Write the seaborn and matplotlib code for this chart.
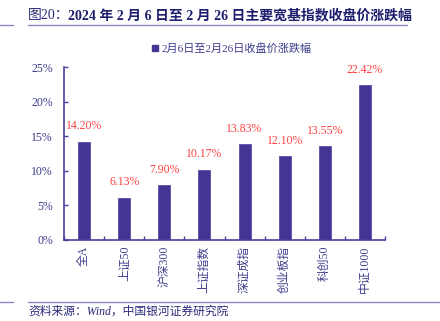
import matplotlib
matplotlib.use("Agg")
import matplotlib.pyplot as plt
import seaborn as sns
import pandas as pd
from matplotlib.lines import Line2D
from matplotlib.ticker import FixedLocator, PercentFormatter

categories = ["全A", "上证50", "沪深300", "上证指数", "深证成指", "创业板指", "科创50", "中证1000"]
values = [14.20, 6.13, 7.90, 10.17, 13.83, 12.10, 13.55, 22.42]
yticks = [0, 5, 10, 15, 20, 25]
series_name = "2月6日至2月26日收盘价涨跌幅"
title_prefix = "图20："
title_main = "2024 年 2 月 6 日至 2 月 26 日主要宽基指数收盘价涨跌幅"
source = "资料来源：Wind，中国银河证券研究院"

sns.set_theme(style="white")
FAM = ["Liberation Serif", "Noto Sans CJK SC", "DejaVu Sans"]
plt.rcParams["font.family"] = FAM

bar_color = "#433594"
axis_color = "#4B3F99"
text_color = "#3C3C8C"
label_color = "#FF4040"

df = pd.DataFrame({"cat": categories, "val": values})

fig = plt.figure(figsize=(4.40, 3.21), dpi=100)
ax = fig.add_axes([64/440, 1-240/321, (385-64)/440, (240-67)/321])
sns.barplot(data=df, x="cat", y="val", color=bar_color, width=0.3, ax=ax,
            saturation=1, edgecolor="#5A4DA8", linewidth=0.6)
ax.set_xlim(-0.5, len(categories)-0.5)
ax.set_ylim(0, 25)
ax.set_xlabel("")
ax.set_ylabel("")
ax.yaxis.set_major_locator(FixedLocator(yticks))
ax.yaxis.set_major_formatter(PercentFormatter(decimals=0))
for s in ["top", "right"]:
    ax.spines[s].set_visible(False)
for s in ["left", "bottom"]:
    ax.spines[s].set_color(axis_color)
    ax.spines[s].set_linewidth(1.2)
ax.tick_params(axis="y", direction="in", length=3, width=1, color=axis_color,
               labelsize=8.5, labelcolor=text_color, pad=8, left=True)
ax.tick_params(axis="x", which="major", length=0, labelsize=8.5,
               labelcolor=text_color, rotation=90, pad=4)
ax.set_xticks(range(len(categories)))
ax.set_xticklabels(categories, rotation=90, va="top", ha="center")
ax.set_xticks([i + 0.5 for i in range(-1, len(categories))], minor=True)
ax.tick_params(axis="x", which="minor", direction="in", length=3, width=1,
               color=axis_color, bottom=True)

for i, v in enumerate(values):
    ax.text(i, v + 1.35, f"{v:.2f}%", ha="center", va="bottom",
            fontsize=8.5, color=label_color)

handle = Line2D([], [], marker="s", linestyle="none", markersize=4.5,
                color=bar_color)
leg = fig.legend([handle], [series_name], loc="center", bbox_to_anchor=(232/440, 1-48/321),
                 frameon=False, fontsize=8, handlelength=0.6, handletextpad=0.3,
                 borderpad=0)
for t in leg.get_texts():
    t.set_color(text_color)

fig.text(28/440, 1-15/321, title_prefix, fontsize=10, color="#2A2A7A",
         va="center", ha="left")
fig.text(68/440, 1-15/321, title_main, fontsize=10, color="#1E1E6E",
         va="center", ha="left", fontweight="bold")
fig.add_artist(Line2D([28/440, 407/440], [1-25/321, 1-25/321], color="#8A85C4", lw=1))
fig.add_artist(Line2D([0, 13/440], [1-25/321, 1-25/321], color="#8A85C4", lw=1))
fig.add_artist(Line2D([28/440, 1.0], [1-302/321, 1-302/321], color="#8A85C4", lw=1))
fig.add_artist(Line2D([0, 13/440], [1-302/321, 1-302/321], color="#8A85C4", lw=1))
fig.text(28/440, 1-312/321, source, fontsize=8.5, color="#2A2A7A",
         va="center", ha="left", style="italic")

fig.savefig("out.png", dpi=100)
